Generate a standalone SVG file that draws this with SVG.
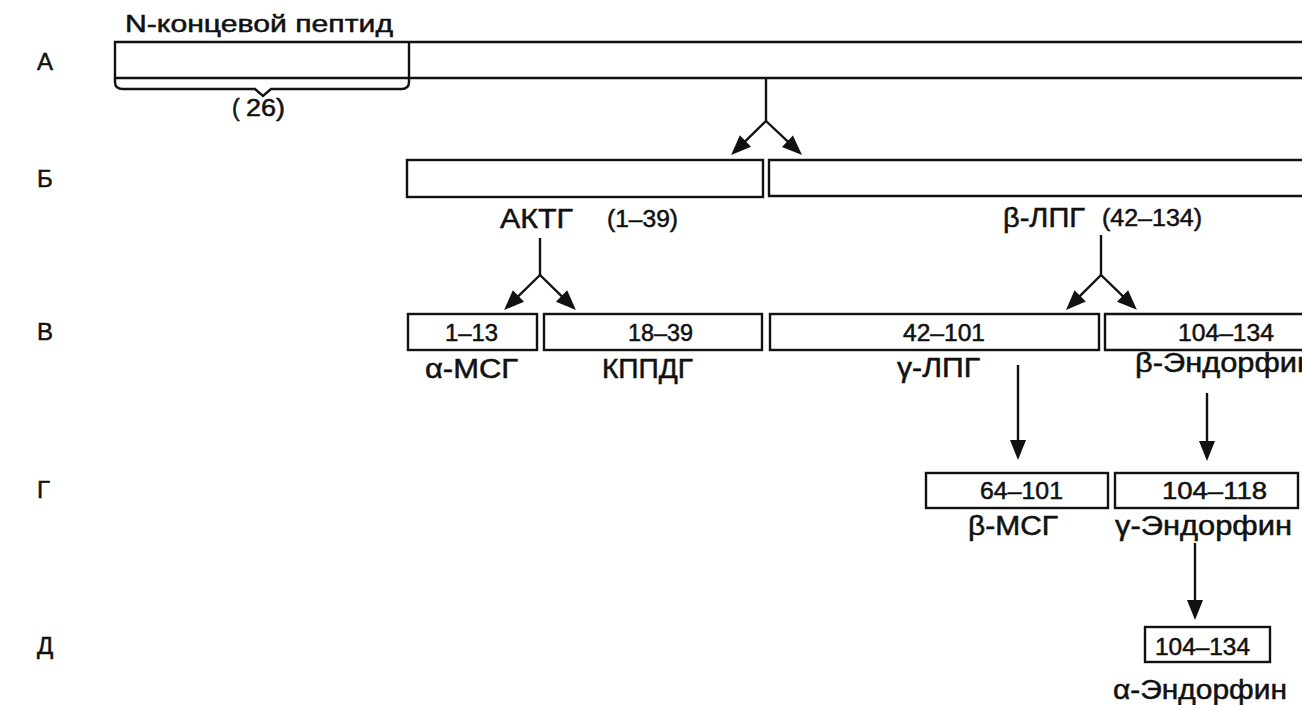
<svg xmlns="http://www.w3.org/2000/svg" width="1302" height="705" viewBox="0 0 1302 705">
  <defs>
    <marker id="head" markerUnits="userSpaceOnUse" markerWidth="20" markerHeight="16" refX="9" refY="8" orient="auto" overflow="visible">
      <path d="M0,0 L20,8 L0,16 z" fill="#111"/>
    </marker>
    <style>
      .box { fill: none; stroke: #111; stroke-width: 2.4; }
      .edge { fill: none; stroke: #111; stroke-width: 2.4; }
      .arrow { fill: none; stroke: #111; stroke-width: 2.4; marker-end: url(#head); }
      text { font-family: "Liberation Sans", Arial, Helvetica, sans-serif; fill: #111; stroke: #111; stroke-width: 0.5; }
      .row { font-size: 24px; }
      .name { font-size: 27px; }
      .num { font-size: 23px; }
      .title { font-size: 24px; }
    </style>
  </defs>
  <rect width="1302" height="705" fill="#fff"/>

  <!-- row letters -->
  <g id="rows" class="row">
    <text x="37" y="70">А</text>
    <text x="37" y="187">Б</text>
    <text x="37" y="340">В</text>
    <text x="37" y="498">Г</text>
    <text x="37" y="654">Д</text>
  </g>

  <!-- А: precursor with N-terminal peptide -->
  <g id="precursor">
    <path class="box" d="M1310,42 H115 V78 H1310"/>
    <line class="box" x1="409" y1="42" x2="409" y2="78"/>
    <path class="edge" d="M115,78 V82 Q115,89 123,89 H255 L263,96 L271,89 H401 Q409,89 409,82 V78"/>
    <text class="title" x="125" y="32" textLength="268" lengthAdjust="spacingAndGlyphs">N-концевой пептид</text>
    <text class="num" y="116"><tspan x="232">(</tspan><tspan x="246" textLength="39" lengthAdjust="spacingAndGlyphs">26)</tspan></text>
  </g>

  <!-- Б -->
  <g id="acth">
    <rect class="box" x="407" y="160" width="356" height="37"/>
    <text class="name" x="500" y="228" textLength="73" lengthAdjust="spacingAndGlyphs">АКТГ</text>
    <text class="num" x="607" y="227" textLength="71" lengthAdjust="spacingAndGlyphs">(1–39)</text>
  </g>
  <g id="beta-lph">
    <path class="box" d="M1310,160 H769 V196 H1310"/>
    <text class="name" x="1003" y="227" textLength="82" lengthAdjust="spacingAndGlyphs">β-ЛПГ</text>
    <text class="num" x="1102" y="226" textLength="100" lengthAdjust="spacingAndGlyphs">(42–134)</text>
  </g>

  <!-- В -->
  <g id="alpha-msh">
    <rect class="box" x="408" y="314" width="129" height="36"/>
    <text class="num" x="445" y="341" textLength="53" lengthAdjust="spacingAndGlyphs">1–13</text>
    <text class="name" x="425" y="378" textLength="93" lengthAdjust="spacingAndGlyphs">α-МСГ</text>
  </g>
  <g id="clip">
    <rect class="box" x="544" y="314" width="218" height="36"/>
    <text class="num" x="628" y="341" textLength="65" lengthAdjust="spacingAndGlyphs">18–39</text>
    <text class="name" x="602" y="378" textLength="91" lengthAdjust="spacingAndGlyphs">КППДГ</text>
  </g>
  <g id="gamma-lph">
    <rect class="box" x="770" y="314" width="329" height="36"/>
    <text class="num" x="903" y="341" textLength="82" lengthAdjust="spacingAndGlyphs">42–101</text>
    <text class="name" x="897" y="377" textLength="83" lengthAdjust="spacingAndGlyphs">γ-ЛПГ</text>
  </g>
  <g id="beta-endorphin">
    <path class="box" d="M1310,314 H1105 V350 H1310"/>
    <text class="num" x="1178" y="341" textLength="96" lengthAdjust="spacingAndGlyphs">104–134</text>
    <text class="name" x="1135" y="372" textLength="179" lengthAdjust="spacingAndGlyphs">β-Эндорфин</text>
  </g>

  <!-- Г -->
  <g id="beta-msh">
    <rect class="box" x="926" y="473" width="182" height="35"/>
    <text class="num" x="980" y="499" textLength="83" lengthAdjust="spacingAndGlyphs">64–101</text>
    <text class="name" x="968" y="535" textLength="90" lengthAdjust="spacingAndGlyphs">β-МСГ</text>
  </g>
  <g id="gamma-endorphin">
    <rect class="box" x="1115" y="473" width="183" height="35"/>
    <text class="num" x="1162" y="499" textLength="105" lengthAdjust="spacingAndGlyphs">104–118</text>
    <text class="name" x="1115" y="535" textLength="177" lengthAdjust="spacingAndGlyphs">γ-Эндорфин</text>
  </g>

  <!-- Д -->
  <g id="alpha-endorphin">
    <rect class="box" x="1145" y="627" width="125" height="35"/>
    <text class="num" x="1155" y="655" textLength="95" lengthAdjust="spacingAndGlyphs">104–134</text>
    <text class="name" x="1113" y="699" textLength="174" lengthAdjust="spacingAndGlyphs">α-Эндорфин</text>
  </g>

  <!-- cleavage connectors -->
  <g id="connectors">
    <line class="edge" x1="766" y1="78" x2="766" y2="121"/>
    <line class="arrow" x1="766" y1="121" x2="739" y2="147.3"/>
    <line class="arrow" x1="766" y1="121" x2="794" y2="147.4"/>

    <line class="edge" x1="540" y1="238" x2="540" y2="275"/>
    <line class="arrow" x1="540" y1="275" x2="512" y2="302.3"/>
    <line class="arrow" x1="540" y1="275" x2="568" y2="302.3"/>

    <line class="edge" x1="1101" y1="235" x2="1101" y2="275"/>
    <line class="arrow" x1="1101" y1="275" x2="1073.8" y2="302.2"/>
    <line class="arrow" x1="1101" y1="275" x2="1129" y2="302.2"/>

    <line class="arrow" x1="1018" y1="365" x2="1018" y2="449"/>
    <line class="arrow" x1="1207" y1="393" x2="1207" y2="450"/>
    <line class="arrow" x1="1195" y1="543" x2="1195" y2="609"/>
  </g>
</svg>
